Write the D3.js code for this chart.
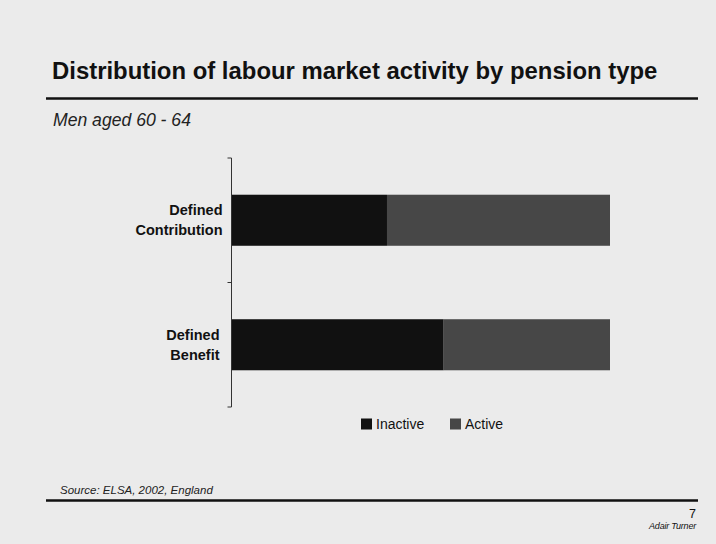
<!DOCTYPE html>
<html>
<head>
<meta charset="utf-8">
<script src="https://cdn.jsdelivr.net/npm/d3@7"></script>
<style>
  html, body { margin: 0; padding: 0; background: #ebebeb; }
  svg { display: block; }
</style>
</head>
<body>
<svg id="chart" width="716" height="544" font-family="'Liberation Sans', Arial, Helvetica, sans-serif"></svg>
<script>
// Shares of men aged 60-64 by labour market status (%)
const categories = ["Defined Contribution", "Defined Benefit"];
const categoryLines = [["Defined", "Contribution"], ["Defined", "Benefit"]];
const inactive = [41, 56];
const active = [59, 44];
const seriesNames = ["Inactive", "Active"];
const seriesColors = ["#111111", "#474747"];

const svg = d3.select("#chart");
svg.append("rect").attr("width", 716).attr("height", 544).attr("fill", "#ebebeb");

// Header
svg.append("text").attr("x", 52).attr("y", 78.5)
  .attr("font-size", 23.9).attr("font-weight", "bold").attr("fill", "#111")
  .text("Distribution of labour market activity by pension type");
svg.append("line").attr("x1", 46).attr("x2", 698).attr("y1", 98.5).attr("y2", 98.5)
  .attr("stroke", "#111").attr("stroke-width", 2.5);
svg.append("text").attr("x", 53).attr("y", 126)
  .attr("font-size", 17.6).attr("font-style", "italic").attr("fill", "#222")
  .text("Men aged 60 - 64");

// Scales
const x = d3.scaleLinear().domain([0, 100]).range([232, 610]);
const y = d3.scaleBand().domain(categories).range([158, 407]);
const barH = y.bandwidth() * 0.41;

const stacked = categories.map((c, i) => {
  const vals = [inactive[i], active[i]];
  let acc = 0;
  return vals.map((v, k) => { const s = { cat: c, k, x0: acc, x1: acc + v }; acc += v; return s; });
}).flat();

svg.append("g").selectAll("rect").data(stacked).join("rect")
  .attr("x", d => x(d.x0))
  .attr("width", d => x(d.x1) - x(d.x0))
  .attr("y", d => y(d.cat) + (y.bandwidth() - barH) / 2)
  .attr("height", barH)
  .attr("fill", d => seriesColors[d.k]);

// Category axis with ticks at band boundaries
const axisX = x(0) - 0.5;
const axis = svg.append("g").attr("stroke", "#333").attr("stroke-width", 1);
axis.append("line").attr("x1", axisX).attr("x2", axisX)
  .attr("y1", y.range()[0]).attr("y2", y.range()[1]);
const bounds = categories.map(c => y(c)).concat([y.range()[1]]);
axis.selectAll("line.tick").data(bounds).join("line").attr("class", "tick")
  .attr("x1", axisX - 4).attr("x2", axisX)
  .attr("y1", d => d).attr("y2", d => d);

// Category labels
const labelX = [222.5, 219.5];
categories.forEach((c, i) => {
  const cy = y(c) + y.bandwidth() / 2;
  const t = svg.append("text").attr("text-anchor", "end")
    .attr("font-size", 14.5).attr("font-weight", "bold").attr("fill", "#111");
  categoryLines[i].forEach((ln, j) => {
    t.append("tspan").attr("x", labelX[i]).attr("y", cy - 5 + j * 20).text(ln);
  });
});

// Legend
const legendX = [361, 450];
seriesNames.forEach((n, k) => {
  svg.append("rect").attr("x", legendX[k]).attr("y", 418.5).attr("width", 11).attr("height", 11)
    .attr("fill", seriesColors[k]);
  svg.append("text").attr("x", legendX[k] + 15).attr("y", 428.5)
    .attr("font-size", 14).attr("fill", "#111").text(n);
});

// Footer
svg.append("text").attr("x", 60).attr("y", 493.5)
  .attr("font-size", 11.5).attr("font-style", "italic").attr("fill", "#222")
  .text("Source: ELSA, 2002, England");
svg.append("line").attr("x1", 46).attr("x2", 698).attr("y1", 500.5).attr("y2", 500.5)
  .attr("stroke", "#111").attr("stroke-width", 2.5);
svg.append("text").attr("x", 696).attr("y", 517.5).attr("text-anchor", "end")
  .attr("font-size", 12.5).attr("fill", "#111").text("7");
svg.append("text").attr("x", 696).attr("y", 528.5).attr("text-anchor", "end")
  .attr("font-size", 9).attr("font-style", "italic").attr("fill", "#111")
  .attr("letter-spacing", -0.2).text("Adair Turner");
</script>
</body>
</html>
